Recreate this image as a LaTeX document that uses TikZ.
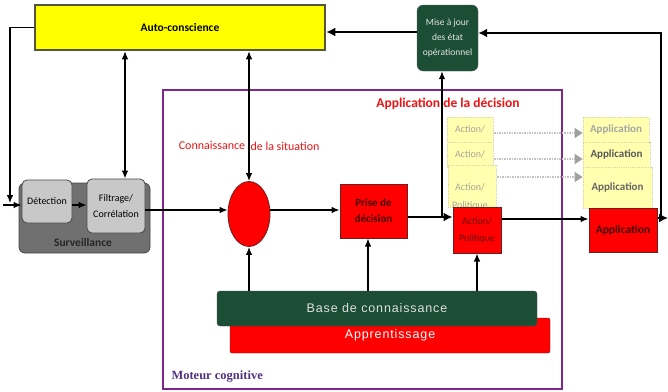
\documentclass[tikz,border=0pt]{standalone}
\usepackage{fontspec}
\setmainfont{Carlito}
\newfontfamily\basefont[LetterSpace=7]{Liberation Sans}
\newfontfamily\motfont{Liberation Serif}
\usetikzlibrary{arrows.meta,shapes.geometric}
\definecolor{autofill}{RGB}{255,255,0}
\definecolor{autoline}{RGB}{85,85,60}
\definecolor{darkgreen}{RGB}{28,78,54}
\definecolor{redfill}{RGB}{255,0,0}
\definecolor{redline}{RGB}{110,30,30}
\definecolor{survfill}{RGB}{112,112,112}
\definecolor{lightgrey}{RGB}{200,200,200}
\definecolor{greyline}{RGB}{70,70,70}
\definecolor{framecol}{RGB}{128,38,140}
\definecolor{motcol}{RGB}{80,50,130}
\definecolor{fadefill}{RGB}{255,255,175}
\definecolor{fadeline}{RGB}{215,215,170}
\definecolor{fadetext}{RGB}{165,165,150}
\definecolor{fadedot}{RGB}{195,195,195}
\definecolor{fadetip}{RGB}{160,160,160}
\definecolor{darkred}{RGB}{110,0,0}
\definecolor{sittext}{RGB}{235,20,20}

\begin{document}
\begin{tikzpicture}[x=1pt, y=-1pt,
    box/.style={draw, inner sep=0pt, align=center},
    redbox/.style={box, fill=redfill, draw=redline, line width=1pt},
    greybox/.style={box, fill=lightgrey, draw=greyline, line width=0.8pt, rounded corners=5pt},
    fadebox/.style={box, fill=fadefill, draw=fadeline, densely dotted, line width=0.8pt},
    arr/.style={line width=1.2pt, -{Latex[length=8pt,width=6.5pt]}},
    dblarr/.style={line width=1.2pt, {Latex[length=8pt,width=6.5pt]}-{Latex[length=8pt,width=6.5pt]}},
    bigarr/.style={line width=2.6pt, -{Latex[length=9pt,width=9pt]}},
    fadearr/.style={draw=fadedot, densely dotted, line width=1.5pt, -{Triangle[length=8pt,width=10pt,color=fadetip]}}]

        \useasboundingbox[fill=white] (0,0) rectangle (668,391);

        % cadre du moteur cognitif
        \node [draw=framecol, line width=1.3pt, minimum width=399pt, minimum height=299pt, inner sep=0pt] (moteur) at (362.5,239.5) {};
        \node [anchor=west, text=motcol, font=\motfont\bfseries\fontsize{12.5}{14}\selectfont] (motlbl) at (168,377) {Moteur cognitive};

        % bases
        \node [box, fill=redfill, draw=redline, rounded corners=2pt, minimum width=320pt, minimum height=35pt, text=white, font=\basefont\fontsize{12.5}{14}\selectfont] (appr) at (390,335.5) {Apprentissage};
        \node [box, fill=darkgreen, draw=black!70, rounded corners=3pt, minimum width=320pt, minimum height=35pt, text=black!12, font=\basefont\fontsize{12.5}{14}\selectfont] (base) at (377,308.5) {Base de connaissance};

        % blocs du haut
        \node [box, fill=autofill, draw=autoline, line width=2.5pt, minimum width=290pt, minimum height=45pt, font=\bfseries\fontsize{11.5}{13}\selectfont] (auto) at (180,27.5) {Auto-conscience};
        \node [box, fill=darkgreen, draw=black!60, rounded corners=6pt, minimum width=61pt, minimum height=66pt, text=black!10, font=\fontsize{9.5}{15}\selectfont] (maj) at (447.5,38) {Mise à jour\\des état\\opérationnel};

        % surveillance
        \node [box, fill=survfill, draw=greyline, line width=0.8pt, rounded corners=6pt, minimum width=131pt, minimum height=70pt] (surv) at (84.5,218) {};
        \node [font=\bfseries\fontsize{11.5}{13}\selectfont, text=black!85] (survlbl) at (83,243) {Surveillance};
        \node [greybox, minimum width=50pt, minimum height=43pt, font=\fontsize{10}{12}\selectfont] (det) at (47,201.5) {Détection};
        \node [greybox, minimum width=58pt, minimum height=54pt, font=\fontsize{10}{16}\selectfont] (filt) at (116,206) {Filtrage/\\Corrélation};

        % situation et decision
        \node [ellipse, fill=redfill, draw=redline, line width=0.8pt, minimum width=42pt, minimum height=65pt, inner sep=0pt] (sit) at (249,214) {};
        \node [text=sittext, font=\fontsize{12}{13}\selectfont] (conn) at (212,145) {Connaissance};
        \node [text=sittext, font=\fontsize{12}{13}\selectfont] (deso) at (285,146) {de la situation};
        \node [text=sittext, font=\bfseries\fontsize{13.5}{15}\selectfont] (appdec) at (448,104) {Application de la décision};
        \node [redbox, minimum width=67pt, minimum height=54pt, text=darkred!60!black, font=\bfseries\fontsize{11}{16}\selectfont] (prise) at (373.5,211) {Prise de\\décision};

        % actions et applications estompees
        \node [fadebox, minimum width=46pt, minimum height=25pt, text=fadetext, font=\fontsize{10}{12}\selectfont] (fa1) at (470,129.5) {Action/};
        \node [fadebox, minimum width=46pt, minimum height=25pt, text=fadetext, font=\fontsize{10}{12}\selectfont] (fa2) at (470,154.5) {Action/};
        \node [fadebox, minimum width=48pt, minimum height=42pt] (fa3) at (472,186) {};
        \node [text=fadetext, align=center, font=\fontsize{10}{18}\selectfont] (fa3txt) at (470,196.5) {Action/\\Politique};
        \node [fadebox, minimum width=66pt, minimum height=25pt, text=black!35, font=\bfseries\fontsize{11}{13}\selectfont] (fp1) at (616,129.5) {Application};
        \node [fadebox, minimum width=67pt, minimum height=25pt, text=black!65, font=\bfseries\fontsize{11}{13}\selectfont] (fp2) at (616.5,154.5) {Application};
        \node [fadebox, minimum width=69pt, minimum height=41pt, text=black!60, font=\bfseries\fontsize{11}{13}\selectfont] (fp3) at (617.5,187.5) {Application};

        \node [redbox, minimum width=48pt, minimum height=46pt, text=darkred, font=\fontsize{10}{17}\selectfont] (action) at (477,230) {Action/\\Politique};
        \node [redbox, minimum width=68pt, minimum height=44pt, text=darkred!60!black, font=\bfseries\fontsize{11.5}{13}\selectfont] (app) at (623,230) {Application};

        % points libres
        \coordinate (src) at (3,205);
        \coordinate (fb) at (10,203);
        \coordinate (jn) at (442,217);
        \coordinate (rt) at (661,218);
        \coordinate (out) at (668,218);
        \coordinate (d1) at (494,133);
        \coordinate (d2) at (494,159);
        \coordinate (d3) at (497,177);

        % connexions
        \draw[arr] (auto.west) -| (fb);
        \draw[arr] (src) -- (src -| det.west);
        \draw[arr] ([yshift=-3.5pt]det.east) -- ([yshift=-3.5pt]det.east -| filt.west);
        \draw[dblarr] ([xshift=-55pt]auto.south) -- ([xshift=9pt]filt.north);
        \draw[dblarr] (auto.south -| sit.north) -- (sit.north);
        \draw[arr] ([yshift=-4pt]filt.east) -- ([yshift=-4pt]filt.east -| sit.west);
        \draw[arr] ([yshift=4pt]sit.east) -- ([yshift=4pt]sit.east -| prise.west);
        \draw[bigarr] ([yshift=-6pt]prise.east) -- ([yshift=-6pt]prise.east -| action.west);
        \draw[arr] (jn) -- (jn |- maj.south);
        \draw[arr] ([yshift=11pt]action.east) -- ([yshift=11pt]action.east -| app.west);
        \draw[bigarr] ([yshift=12pt]app.east) -- (out);
        \draw[bigarr] (rt) |- ([yshift=5pt]maj.east);
        \draw[bigarr] ([yshift=6pt]maj.west) -- ([yshift=6pt]maj.west -| auto.east);

        \draw[arr] (sit.south |- base.north) -- (sit.south);
        \draw[arr] ([xshift=-5.5pt]prise.south |- base.north) -- ([xshift=-5.5pt]prise.south);
        \draw[arr] (action.south |- base.north) -- (action.south);

        \draw[fadearr] (d1) -- (d1 -| fp1.west);
        \draw[fadearr] (d2) -- (d2 -| fp2.west);
        \draw[fadearr] (d3) -- (d3 -| fp3.west);

\end{tikzpicture}
\end{document}
